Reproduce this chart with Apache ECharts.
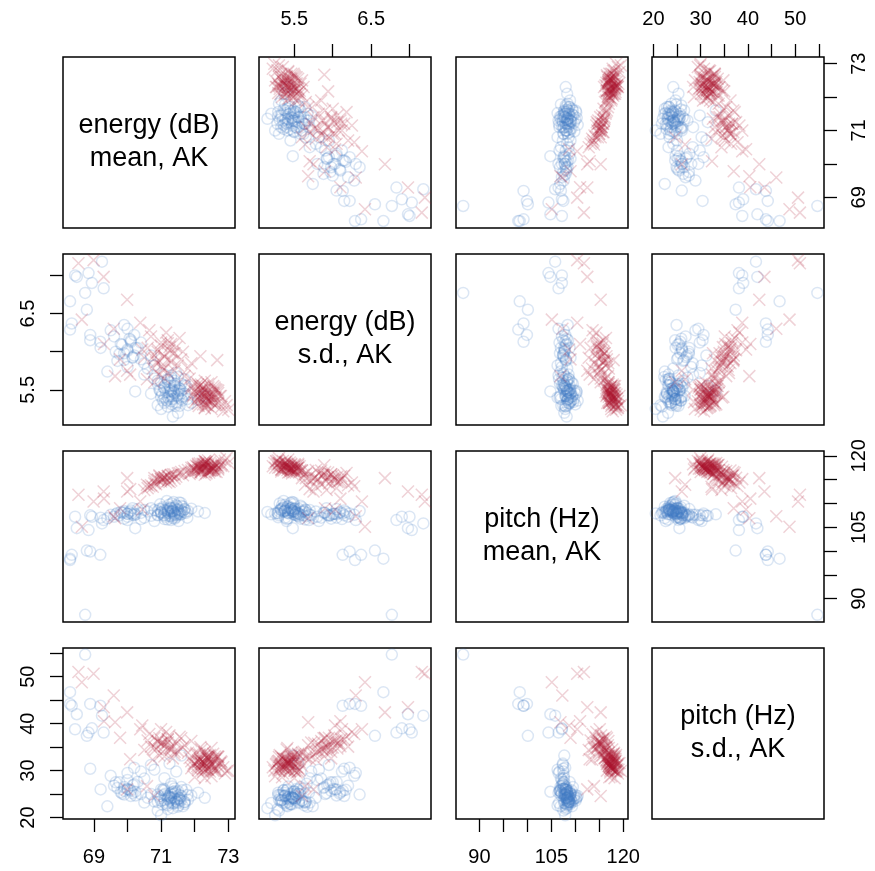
<!DOCTYPE html>
<html>
<head>
<meta charset="utf-8">
<script src="https://cdn.jsdelivr.net/npm/echarts@6/dist/echarts.min.js"></script>
<style>
html, body { margin: 0; padding: 0; background: #fff; }
#main { width: 875px; height: 871px; }
</style>
</head>
<body>
<div id="main"></div>
<script>
// diagonal labels, axis ranges and ticks for the 4 variables
var varLabels = ['energy (dB)\nmean, AK', 'energy (dB)\ns.d., AK', 'pitch (Hz)\nmean, AK', 'pitch (Hz)\ns.d., AK'];
var varRanges = [[68.08, 73.2], [5.04, 7.28], [85.1, 121.0], [19.7, 56.1]];
var tickValues = [[69, 70, 71, 72, 73], [5.5, 6, 6.5, 7], [90, 95, 100, 105, 110, 115, 120], [20, 25, 30, 35, 40, 45, 50, 55]];
var tickLabels = [[69, 71, 73], [5.5, 6.5], [90, 105, 120], [20, 30, 40, 50]];

// blue group (circles): outliers, main cluster, second cluster, dense cores
var blueEnergyMean = [68.74, 68.29, 68.34, 68.29, 68.89, 69.19, 68.44, 68.84, 68.94, 69.29, 69.24, 68.49, 68.79, 68.89,
  71.3, 71.1, 71.5, 71.2, 71.4, 71.0, 71.6, 71.3, 71.7, 70.9, 71.35, 71.25, 71.45, 71.15, 71.55, 71.05, 71.8, 71.4, 70.95, 71.65,
  71.2, 71.5, 71.9, 72.1, 72.3, 70.8, 71.35, 71.0, 71.6, 71.3, 71.1, 71.45, 71.25, 71.6, 70.7, 71.75, 71.1, 71.4, 71.2, 71.55,
  71.0, 71.35, 71.5, 70.9, 71.7,
  70.0, 69.8, 70.2, 70.4, 69.6, 70.1, 70.5, 69.9, 70.3, 69.5, 70.6, 70.0, 69.7, 70.2, 70.7, 69.4, 70.23, 70.0, 69.9, 70.4,
  69.2, 70.5, 69.65, 70.8, 70.15,
  71.30, 71.12, 71.48, 71.23, 71.41, 71.04, 71.56, 71.32, 71.19, 71.63, 71.37, 71.08, 71.52, 71.26, 71.43, 70.97, 71.70, 71.34,
  71.17, 71.50, 71.28, 71.59, 71.10, 71.39, 71.21, 71.78, 70.90, 71.45, 71.30, 71.54,
  70.00, 69.84, 70.16, 70.10, 69.90, 70.24, 69.76, 70.06];
var blueEnergySd = [6.77, 6.66, 6.37, 6.29, 6.22, 6.13, 7.00, 7.03, 6.90, 6.83, 7.18, 6.98, 6.55, 6.15,
  5.48, 5.52, 5.44, 5.40, 5.55, 5.60, 5.38, 5.35, 5.45, 5.58, 5.50, 5.42, 5.32, 5.47, 5.52, 5.36, 5.30, 5.62, 5.50, 5.41,
  5.28, 5.20, 5.33, 5.37, 5.42, 5.65, 5.15, 5.25, 5.58, 5.66, 5.70, 5.72, 5.55, 5.49, 5.45, 5.55, 5.33, 5.46, 5.63, 5.29,
  5.41, 5.38, 5.50, 5.30, 5.64,
  6.03, 6.10, 5.95, 5.90, 6.20, 6.15, 5.85, 5.98, 6.05, 6.28, 5.78, 6.30, 5.88, 6.22, 5.95, 5.74, 5.48, 5.80, 6.35, 6.12,
  6.05, 5.70, 6.00, 5.82, 5.92,
  5.49, 5.56, 5.42, 5.38, 5.58, 5.45, 5.51, 5.31, 5.64, 5.36, 5.47, 5.53, 5.40, 5.60, 5.29, 5.49, 5.56, 5.42,
  5.36, 5.67, 5.51, 5.45, 5.40, 5.56, 5.47, 5.38, 5.62, 5.34, 5.69, 5.49,
  6.01, 6.09, 5.93, 6.13, 5.89, 6.05, 5.97, 6.17];
var bluePitchMean = [86.6, 98.4, 99.2, 98.1, 99.9, 99.2, 107.2, 104.4, 107.2, 106.5, 105.8, 104.8, 100.1, 107.5,
  108.3, 108.0, 108.6, 108.9, 107.8, 108.2, 108.5, 109.0, 108.1, 107.6, 108.4, 107.9, 108.7, 108.5, 108.2, 109.2, 108.4, 107.5, 108.8, 109.3,
  108.0, 107.7, 108.9, 108.3, 108.0, 108.6, 108.2, 107.9, 109.5, 107.3, 107.6, 107.5, 107.4, 107.7, 109.0, 108.0, 108.6, 109.1, 108.3, 107.9,
  108.1, 108.5, 108.8, 107.5, 108.7,
  107.8, 108.2, 107.5, 108.0, 107.2, 108.5, 107.0, 106.8, 108.8, 107.6, 108.3, 106.5, 108.0, 107.9, 107.4, 106.9, 104.8, 107.2, 108.4, 106.7,
  107.0, 108.6, 107.7, 106.3, 109.0,
  108.3, 107.2, 109.4, 109.7, 106.8, 108.9, 107.6, 110.0, 106.6, 108.3, 110.3, 107.5, 106.3, 109.2, 107.1, 109.8, 108.8, 106.9,
  110.5, 108.0, 109.0, 110.1, 106.7, 107.8, 108.6, 107.0, 108.4, 109.6, 106.5, 110.2,
  107.8, 108.0, 107.6, 107.9, 108.1, 107.7, 107.5, 108.2];
var bluePitchSd = [54.7, 46.7, 43.8, 44.2, 44.2, 43.8, 38.8, 38.1, 39.0, 38.1, 41.7, 42.0, 37.4, 30.4,
  24.3, 24.8, 23.9, 24.0, 25.1, 23.6, 24.6, 23.2, 22.9, 24.9, 25.5, 24.4, 23.5, 22.8, 24.1, 25.8, 23.8, 26.2, 24.5, 22.4,
  21.8, 23.1, 24.7, 25.3, 24.2, 23.4, 22.0, 20.5, 26.5, 27.2, 28.4, 29.8, 31.5, 33.2, 25.0, 25.9, 23.7, 24.0, 22.6, 24.8,
  26.0, 23.0, 25.6, 21.5, 23.3,
  26.0, 25.4, 27.1, 25.0, 26.8, 24.6, 28.3, 25.7, 27.6, 28.9, 24.2, 29.5, 26.3, 30.6, 31.2, 22.4, 25.5, 28.0, 24.9, 29.8,
  26.0, 23.2, 27.5, 30.2, 25.2,
  24.1, 25.1, 23.3, 24.6, 25.6, 22.8, 23.8, 24.8, 23.1, 25.8, 24.3, 26.1, 22.6, 23.6, 25.3, 24.1, 23.3, 26.6,
  24.6, 22.3, 25.1, 23.6, 25.8, 23.1, 24.3, 24.8, 23.3, 23.8, 25.3, 24.1,
  26.1, 25.1, 26.9, 25.7, 26.5, 24.7, 27.5, 25.9];

// red group (crosses): outliers, main cluster, second cluster, dense cores
var redEnergyMean = [68.54, 68.99, 69.29, 69.99, 68.64, 69.59, 70.38, 70.44, 69.63, 69.78, 72.67, 73.0, 70.08, 70.58, 69.99, 70.8, 72.17, 69.3,
  72.3, 72.1, 72.5, 72.2, 72.4, 72.0, 72.6, 72.35, 72.15, 72.7, 71.9, 72.45, 72.25, 72.8, 72.05, 72.55, 72.3, 72.65, 72.2, 72.9,
  72.4, 72.1, 72.5, 72.35, 72.75, 71.95, 72.6, 72.25, 72.45, 72.15, 72.85, 72.3, 72.0, 72.55, 72.4, 72.2, 72.7, 72.35, 72.1, 72.6,
  72.95, 71.85, 72.3, 72.5, 72.25,
  71.1, 70.9, 71.3, 71.0, 71.5, 70.8, 71.2, 71.4, 70.7, 71.6, 71.05, 71.25, 70.95, 71.7, 71.15, 70.6, 71.35, 70.85, 71.8, 71.0,
  71.45, 70.75, 71.55, 71.2, 70.5, 71.65, 71.9, 70.65, 71.1, 71.3,
  72.30, 72.17, 72.48, 72.23, 72.41, 72.08, 72.56, 72.32, 72.19, 72.63, 72.37, 72.04, 72.52, 72.26, 72.43, 71.97, 72.70, 72.34,
  72.12, 72.50, 72.28, 72.59, 72.10, 72.39, 72.21, 72.78, 71.90, 72.45, 72.30, 72.61,
  71.10, 70.90, 71.30, 71.00, 71.20, 70.80, 71.40, 71.05, 71.25, 70.95];
var redEnergySd = [7.16, 7.20, 6.98, 6.68, 6.42, 6.30, 6.38, 6.03, 5.68, 5.90, 5.89, 5.24, 5.70, 5.64, 5.75, 5.60, 5.94, 6.10,
  5.42, 5.45, 5.38, 5.50, 5.35, 5.48, 5.40, 5.30, 5.55, 5.33, 5.52, 5.44, 5.37, 5.28, 5.60, 5.46, 5.26, 5.50, 5.40, 5.35,
  5.58, 5.32, 5.25, 5.47, 5.42, 5.42, 5.30, 5.53, 5.36, 5.38, 5.22, 5.62, 5.34, 5.55, 5.29, 5.44, 5.46, 5.39, 5.57, 5.33,
  5.30, 5.65, 5.50, 5.41, 5.31,
  5.94, 6.00, 5.88, 6.08, 5.82, 5.95, 6.15, 5.75, 6.20, 5.90, 5.80, 6.02, 5.70, 5.68, 6.25, 6.05, 5.98, 5.86, 5.78, 6.12,
  6.06, 5.78, 6.18, 5.72, 5.92, 6.00, 5.85, 6.28, 5.65, 6.10,
  5.42, 5.49, 5.35, 5.46, 5.53, 5.38, 5.44, 5.31, 5.57, 5.40, 5.46, 5.51, 5.33, 5.55, 5.42, 5.44, 5.49, 5.38,
  5.29, 5.60, 5.46, 5.53, 5.40, 5.36, 5.49, 5.42, 5.55, 5.46, 5.27, 5.51,
  5.93, 6.03, 5.86, 5.81, 6.11, 5.91, 5.98, 5.76, 6.06, 5.88];
var redPitchMean = [111.8, 110.4, 112.5, 115.3, 105.1, 107.3, 110.4, 108.7, 106.9, 109.0, 118.0, 118.5, 113.0, 113.9, 112.5, 115.3, 116.5, 111.0,
  117.4, 117.0, 117.8, 117.2, 118.0, 116.8, 117.6, 118.3, 117.5, 117.1, 116.5, 118.6, 117.9, 118.2, 116.9, 117.3, 118.8, 116.6, 117.7, 118.9,
  117.0, 118.1, 117.5, 116.3, 119.2, 117.6, 118.5, 117.3, 116.9, 118.4, 117.8, 116.0, 117.1, 118.0, 119.0, 116.6, 117.4, 118.7, 117.8, 116.7,
  119.5, 116.2, 118.2, 117.0, 117.6,
  115.5, 115.0, 116.0, 114.6, 116.3, 114.2, 115.8, 115.2, 113.8, 116.6, 114.9, 115.4, 115.7, 116.8, 114.4, 113.2, 116.1, 114.0, 117.0, 115.1,
  115.6, 113.5, 116.4, 114.7, 112.8, 115.9, 116.9, 113.6, 115.3, 114.8,
  117.5, 117.1, 117.9, 118.3, 116.9, 117.7, 117.3, 118.5, 116.7, 118.1, 117.5, 117.9, 117.1, 118.3, 116.5, 117.3, 117.7, 118.7,
  117.5, 116.9, 118.1, 117.3, 118.3, 117.7, 117.1, 117.9, 117.5, 116.9, 118.9, 118.1,
  115.5, 114.9, 115.9, 115.1, 115.7, 114.7, 116.1, 115.3, 114.5, 115.9];
var redPitchSd = [51.0, 50.6, 43.5, 42.4, 48.8, 46.0, 38.8, 39.6, 40.3, 37.0, 33.0, 30.0, 32.4, 26.7, 26.0, 24.6, 35.0, 40.5,
  31.7, 32.2, 31.2, 30.8, 32.6, 31.5, 30.4, 32.9, 33.4, 31.0, 32.0, 29.8, 30.3, 31.8, 33.8, 32.4, 31.3, 30.0, 34.5, 29.4,
  33.1, 30.6, 28.8, 32.8, 31.6, 31.1, 32.1, 29.6, 31.9, 32.5, 30.7, 34.0, 28.6, 33.6, 30.2, 31.4, 32.9, 31.0, 30.1, 33.0,
  29.9, 32.7, 28.4, 34.8, 30.5,
  35.5, 36.2, 34.8, 35.9, 34.2, 37.0, 36.6, 33.5, 35.1, 36.9, 34.0, 37.5, 33.2, 35.4, 38.2, 36.4, 32.6, 34.6, 33.8, 38.8,
  35.8, 32.3, 37.2, 36.0, 34.4, 34.9, 36.3, 37.8, 33.0, 35.2,
  31.5, 32.3, 30.8, 32.0, 32.8, 31.0, 30.0, 33.3, 31.8, 32.5, 30.5, 33.5, 31.3, 29.8, 32.3, 31.5, 33.0, 30.3,
  32.0, 31.0, 33.8, 30.8, 31.8, 32.5, 31.3, 32.0, 30.5, 33.3, 31.5, 30.0,
  35.2, 36.2, 34.5, 35.7, 36.7, 35.0, 34.0, 35.9, 34.7, 36.9];

var blueVars = [blueEnergyMean, blueEnergySd, bluePitchMean, bluePitchSd];
var redVars = [redEnergyMean, redEnergySd, redPitchMean, redPitchSd];

// panel layout
var colLeft = [63, 259, 456, 652];
var rowTop = [57, 254, 451, 648];
var panelW = 172, panelH = 171;
var fontName = 'Liberation Sans';

function pairs(vars, xi, yi) {
    var out = [];
    var n = Math.min(vars[xi].length, vars[yi].length);
    for (var i = 0; i < n; i++) {
        out.push([vars[xi][i], vars[yi][i]]);
    }
    return out;
}

function makeAxis(gridIndex, v, pos, show, isY) {
    return {
        type: 'value',
        gridIndex: gridIndex,
        position: pos,
        min: varRanges[v][0],
        max: varRanges[v][1],
        axisLine: { show: false },
        splitLine: { show: false },
        axisTick: {
            show: show,
            customValues: tickValues[v],
            length: 13,
            lineStyle: { color: '#000', width: 1.3 }
        },
        axisLabel: {
            show: show,
            customValues: tickLabels[v],
            margin: isY ? 25 : 28,
            rotate: isY ? 90 : 0,
            color: '#000',
            fontSize: 20,
            fontFamily: fontName
        }
    };
}

var grids = [], xAxes = [], yAxes = [], series = [], graphics = [];
var k = 0;
for (var r = 0; r < 4; r++) {
    for (var c = 0; c < 4; c++) {
        grids.push({
            left: colLeft[c], top: rowTop[r], width: panelW, height: panelH,
            show: true, borderColor: '#000', borderWidth: 1.5, backgroundColor: 'transparent'
        });
        var onTop = r === 0 && c % 2 === 1;
        var onBottom = r === 3 && c % 2 === 0;
        var onLeft = c === 0 && r % 2 === 1;
        var onRight = c === 3 && r % 2 === 0;
        xAxes.push(makeAxis(k, c, onTop ? 'top' : 'bottom', onTop || onBottom, false));
        yAxes.push(makeAxis(k, r, onRight ? 'right' : 'left', onLeft || onRight, true));

        if (r === c) {
            graphics.push({
                type: 'text',
                x: colLeft[c] + panelW / 2,
                y: rowTop[r] + panelH / 2,
                style: {
                    text: varLabels[r],
                    fontSize: 27,
                    fontFamily: fontName,
                    lineHeight: 33,
                    fill: '#000',
                    align: 'center',
                    verticalAlign: 'middle'
                }
            });
        } else {
            series.push({
                type: 'scatter',
                xAxisIndex: k, yAxisIndex: k,
                symbol: 'circle',
                symbolSize: 11,
                itemStyle: { color: 'rgba(0,0,0,0)', borderColor: 'rgba(66,126,196,0.24)', borderWidth: 1.5 },
                data: pairs(blueVars, c, r)
            });
            series.push({
                type: 'scatter',
                xAxisIndex: k, yAxisIndex: k,
                symbol: 'path://M0,0L12,12M12,0L0,12',
                symbolSize: 12,
                itemStyle: { color: 'rgba(0,0,0,0)', borderColor: 'rgba(170,20,45,0.24)', borderWidth: 1.5 },
                data: pairs(redVars, c, r)
            });
        }
        k++;
    }
}

var myChart = echarts.init(document.getElementById('main'), null, { renderer: 'canvas' });
myChart.setOption({
    animation: false,
    backgroundColor: '#fff',
    grid: grids,
    xAxis: xAxes,
    yAxis: yAxes,
    series: series,
    graphic: graphics
});
</script>
</body>
</html>
